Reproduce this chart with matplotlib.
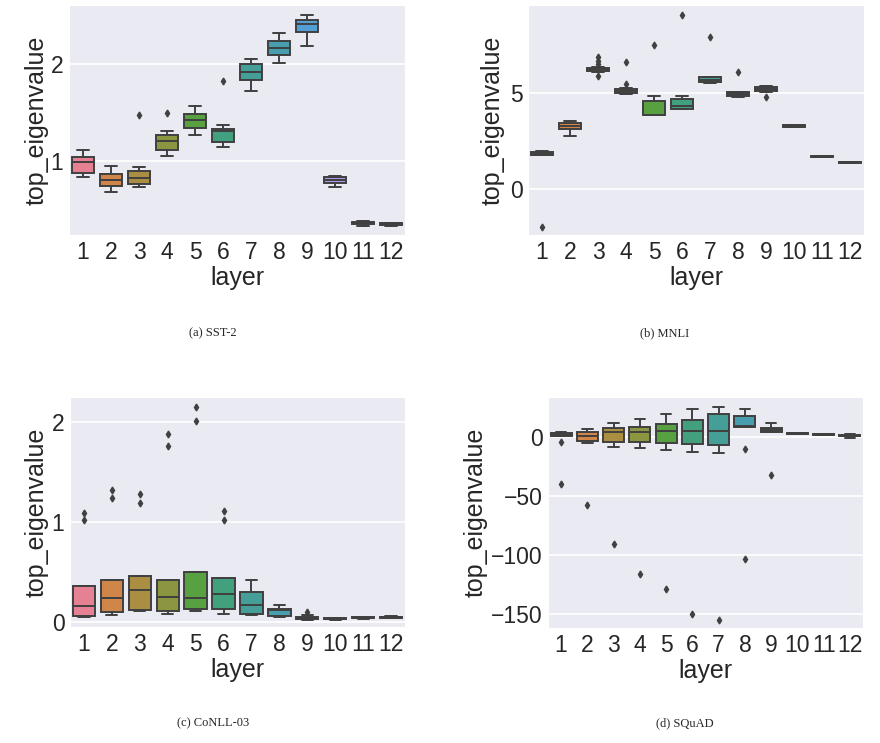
import colorsys
import numpy as np
import matplotlib
matplotlib.use("Agg")
import matplotlib.pyplot as plt
import matplotlib.colors as mcolors
import seaborn as sns

layers = [str(i) for i in range(1, 13)]

# ---- (a) SST-2 ----
sst_lo  = [0.84, 0.68, 0.73, 1.05, 1.27, 1.15, 1.725, 2.01, 2.19, 0.735, 0.33, 0.335]
sst_q1  = [0.88, 0.75, 0.77, 1.12, 1.34, 1.20, 1.835, 2.09, 2.33, 0.78, 0.355, 0.345]
sst_med = [0.99, 0.81, 0.83, 1.21, 1.43, 1.31, 1.92, 2.17, 2.41, 0.81, 0.365, 0.35]
sst_q3  = [1.044, 0.866, 0.90, 1.275, 1.49, 1.333, 2.0, 2.24, 2.46, 0.84, 0.375, 0.36]
sst_hi  = [1.12, 0.95, 0.94, 1.31, 1.567, 1.37, 2.05, 2.32, 2.505, 0.85, 0.38, 0.365]
sst_fl  = [[], [], [1.48], [1.50], [], [1.83], [], [], [], [], [], []]

# ---- (b) MNLI ----
mnli_lo  = [1.76, 2.76, 6.05, 4.93, 3.85, 4.16, 5.50, 4.80, 5.06, 3.22, 1.65, 1.37]
mnli_q1  = [1.80, 3.11, 6.12, 4.97, 3.85, 4.16, 5.54, 4.83, 5.10, 3.24, 1.66, 1.38]
mnli_med = [1.87, 3.28, 6.21, 5.07, 3.87, 4.30, 5.67, 4.92, 5.20, 3.28, 1.69, 1.40]
mnli_q3  = [1.95, 3.45, 6.26, 5.17, 4.57, 4.67, 5.80, 5.02, 5.31, 3.32, 1.72, 1.42]
mnli_hi  = [1.99, 3.55, 6.32, 5.22, 4.83, 4.81, 5.84, 5.06, 5.35, 3.34, 1.73, 1.43]
mnli_fl  = [[-1.93], [], [6.86, 6.64, 6.47, 5.86], [6.6, 5.43], [7.47], [9.02],
            [7.87], [6.05], [4.79], [], [], []]

# ---- (c) CoNLL-03 ----
conll_lo  = [0.05, 0.067, 0.11, 0.083, 0.11, 0.083, 0.07, 0.05, 0.02, 0.025, 0.035, 0.04]
conll_q1  = [0.057, 0.10, 0.117, 0.11, 0.13, 0.133, 0.077, 0.057, 0.03, 0.03, 0.04, 0.045]
conll_med = [0.16, 0.24, 0.317, 0.25, 0.24, 0.28, 0.167, 0.117, 0.045, 0.033, 0.045, 0.05]
conll_q3  = [0.357, 0.42, 0.457, 0.417, 0.50, 0.443, 0.30, 0.133, 0.055, 0.037, 0.05, 0.055]
conll_hi  = [0.357, 0.42, 0.457, 0.417, 0.50, 0.443, 0.42, 0.173, 0.07, 0.04, 0.055, 0.06]
conll_fl  = [[1.09, 1.017], [1.32, 1.24], [1.277, 1.19], [1.877, 1.76], [2.15, 2.01],
             [1.107, 1.023], [], [], [0.1], [], [], []]

# ---- (d) SQuAD ----
squad_lo  = [1.0, -5.4, -8.8, -9.6, -11.3, -12.5, -13.3, 8.8, 4.0, 2.5, 1.8, -0.5]
squad_q1  = [1.1, -3.4, -4.0, -4.5, -5.4, -6.2, -6.8, 8.8, 4.0, 2.8, 2.0, 0.5]
squad_med = [2.0, 0.6, 4.0, 4.0, 5.1, 5.0, 5.4, 9.5, 6.0, 3.1, 2.3, 1.1]
squad_q3  = [3.1, 4.5, 7.4, 8.2, 10.8, 14.4, 19.3, 18.1, 7.9, 3.4, 2.6, 1.7]
squad_hi  = [4.0, 6.5, 11.6, 15.0, 19.3, 23.8, 25.2, 23.8, 11.6, 3.6, 2.8, 3.0]
squad_fl  = [[-4.5, -40], [-57.7], [-90.8], [-116], [-129], [-150.5], [-154.8],
             [-10.5, -103.6], [-32.3], [], [], []]

captions = ["(a) SST-2", "(b) MNLI", "(c) CoNLL-03", "(d) SQuAD"]

sns.set_style("darkgrid")
plt.rcParams['font.family'] = ['Liberation Sans', 'DejaVu Sans']

pal = sns.color_palette("husl", 12)
pal = [sns.desaturate(c, 0.75) for c in pal]
lum = min(colorsys.rgb_to_hls(*c)[1] for c in pal)
gray = mcolors.rgb2hex((lum * 0.6,) * 3)

fig = plt.figure(figsize=(8.8, 7.43), dpi=100)
W, H = 880, 743

def px_axes(l, r, t, b):
    return fig.add_axes([l / W, 1 - b / H, (r - l) / W, (b - t) / H])

panels = [
    (px_axes(69, 405, 5, 235), sst_lo, sst_q1, sst_med, sst_q3, sst_hi, sst_fl,
     (0.24, 2.61), [1, 2], -0.095),
    (px_axes(528, 864, 5, 235), mnli_lo, mnli_q1, mnli_med, mnli_q3, mnli_hi, mnli_fl,
     (-2.36, 9.54), [0, 5], -0.104),
    (px_axes(70, 405, 397, 627), conll_lo, conll_q1, conll_med, conll_q3, conll_hi, conll_fl,
     (-0.05, 2.25), [0, 1, 2], -0.0985),
    (px_axes(548, 863, 397, 628), squad_lo, squad_q1, squad_med, squad_q3, squad_hi, squad_fl,
     (-162, 34), [0, -50, -100, -150], -0.229),
]

for ax, lo, q1, med, q3, hi, fl, ylim, yt, ylx in panels:
    stats = []
    for i in range(12):
        stats.append(dict(med=med[i], q1=q1[i], q3=q3[i], whislo=lo[i], whishi=hi[i],
                          fliers=fl[i], label=layers[i]))
    bp = ax.bxp(stats, positions=np.arange(12), widths=0.8, patch_artist=True,
                showfliers=True,
                boxprops=dict(edgecolor=gray, linewidth=1.4),
                medianprops=dict(color=gray, linewidth=1.4),
                whiskerprops=dict(color=gray, linewidth=1.4),
                capprops=dict(color=gray, linewidth=1.4),
                flierprops=dict(marker='d', markersize=3.5, markerfacecolor=gray,
                                markeredgecolor=gray, linestyle='none'))
    for patch, c in zip(bp['boxes'], pal):
        patch.set_facecolor(c)
    ax.set_xlim(-0.5, 11.5)
    ax.set_ylim(*ylim)
    ax.set_yticks(yt)
    ax.xaxis.grid(False)
    ax.yaxis.grid(True, color='white', linewidth=1.2)
    ax.set_facecolor('#EAEAF2')
    ax.tick_params(axis='both', labelsize=16.5, pad=4, length=0)
    ax.set_xlabel('layer', fontsize=18, va='center')
    ax.xaxis.set_label_coords(0.5, -0.187)
    ax.set_ylabel('top_eigenvalue', fontsize=18, va='center')
    ax.yaxis.set_label_coords(ylx, 0.5)

cap_pos = [(213, 333), (665, 333), (213, 723), (685, 723)]
for txt, (cx, cy) in zip(captions, cap_pos):
    fig.text(cx / W, 1 - cy / H, txt, ha='center', va='center', fontsize=9,
             family=['Liberation Serif', 'DejaVu Serif'])

fig.savefig("out.png", dpi=100)
